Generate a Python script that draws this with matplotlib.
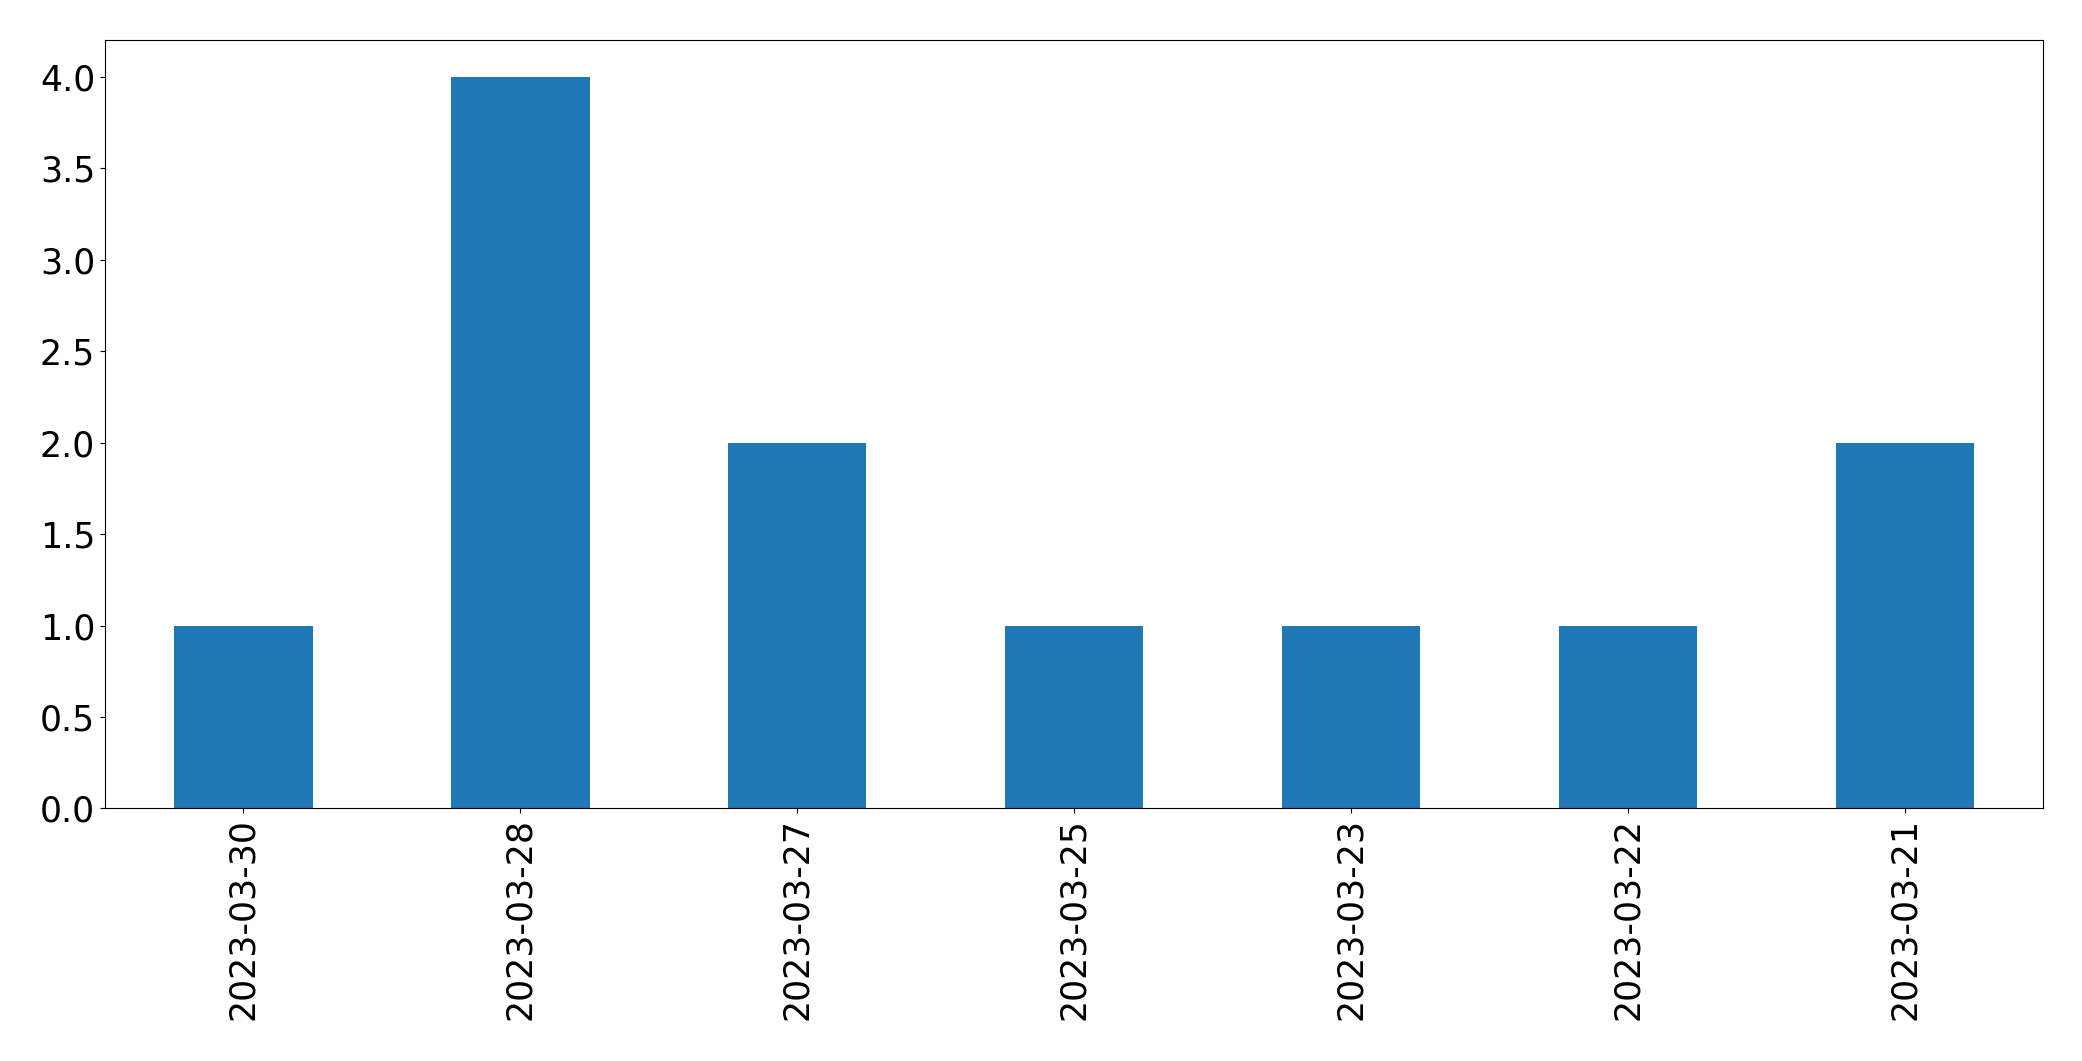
import matplotlib
matplotlib.use("Agg")
import matplotlib.pyplot as plt
import pandas as pd

dates = ["2023-03-30", "2023-03-28", "2023-03-27", "2023-03-25",
         "2023-03-23", "2023-03-22", "2023-03-21"]
counts = [1, 4, 2, 1, 1, 1, 2]

s = pd.Series(counts, index=dates)

fig = plt.figure(figsize=(20.82, 10.61), dpi=100)
ax = fig.add_axes([0.0504, 0.238, 0.931, 0.724])
s.plot(kind="bar", ax=ax, color="#1f77b4", fontsize=25)
ax.tick_params(axis="x", rotation=90)

fig.savefig("out.png", dpi=100)
